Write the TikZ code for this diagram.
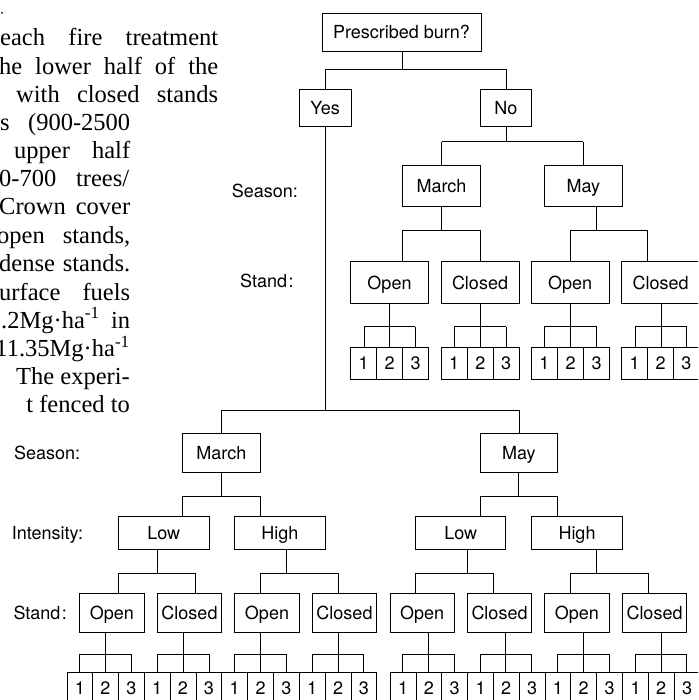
\documentclass[tikz,border=0pt]{standalone}
\usepackage{fontspec}
\setmainfont{Liberation Serif}
\newfontfamily\hvfont{TeX Gyre Heros}
\tikzset{
  bx/.style={draw, line width=0.9pt, inner sep=0pt, font=\hvfont\fontsize{18}{18}\selectfont, text height=13pt, text depth=0pt},
  ln/.style={line width=0.9pt},
  lab/.style={anchor=west, inner sep=0pt, font=\hvfont\fontsize{18}{18}\selectfont, text height=13pt, text depth=0pt},
  para/.style={anchor=base west, inner sep=0pt, font=\fontsize{24.5}{24.5}\selectfont},
  parae/.style={anchor=base east, inner sep=0pt, font=\fontsize{24.5}{24.5}\selectfont}
}
\newcommand\mybox[6]{\node[bx, minimum width={#4pt-#2pt}, minimum height={#5pt-#3pt}] (#1) at ({(#2+#4)/2},{(#3+#5)/2}) {#6};}
\newcommand\leafrow[7]{%
  \mybox{#11}{#2}{#6}{#3}{#7}{1}
  \mybox{#12}{#3}{#6}{#4}{#7}{2}
  \mybox{#13}{#4}{#6}{#5}{#7}{3}}
\newcommand\forktwo[7]{%
  \coordinate (#1-s) at (#2,#3);
  \coordinate (#1-a) at (#5,#3);
  \coordinate (#1-b) at (#7,#3);
  \draw[ln] (#1.south -| #1-s) -- (#1-s);
  \draw[ln] (#1-a) -- (#1-b);
  \draw[ln] (#1-a) -- (#4.north -| #1-a);
  \draw[ln] (#1-b) -- (#6.north -| #1-b);}
\newcommand\forkthree[7]{%
  \coordinate (#1-s) at (#2,#3);
  \coordinate (#1-a) at (#5,#3);
  \coordinate (#1-m) at (#6,#3);
  \coordinate (#1-b) at (#7,#3);
  \draw[ln] (#1.south -| #1-s) -- (#1-s);
  \draw[ln] (#1-a) -- (#1-b);
  \draw[ln] (#1-a) -- (#41.north -| #1-a);
  \draw[ln] (#1-m) -- (#42.north -| #1-m);
  \draw[ln] (#1-b) -- (#43.north -| #1-b);}
\begin{document}
\begin{tikzpicture}[x=1pt,y=-1pt]
\useasboundingbox (0,0) rectangle (698,700);
\clip (0,0) rectangle (698,700);
\fill[white] (0,0) rectangle (698,700);

% paragraph fragment
\fill (2,13) circle (1);
\node[para] (p1) at (0,46) {\makebox[218pt][s]{each fire treatment}};
\node[para] (p2) at (-1,74.5) {\makebox[219pt][s]{he lower half of the}};
\node[para] (p3) at (16,102.5) {\makebox[202pt][s]{with closed stands}};
\node[para] (p4) at (0,131) {\makebox[130pt][s]{s (900-2500}};
\node[para] (p5) at (14,159) {\makebox[116pt][s]{upper half}};
\node[para] (p6) at (-1,187) {\makebox[130pt][s]{0-700 trees/}};
\node[para] (p7) at (-1,215) {\makebox[131pt][s]{Crown cover}};
\node[para] (p8) at (-3,243.5) {\makebox[133pt][s]{open stands,}};
\node[para] (p9) at (-1,271.5) {\makebox[131pt][s]{dense stands.}};
\node[para] (p10) at (-1,300) {\makebox[131pt][s]{urface fuels}};
\node[para] (p11) at (1,328) {\makebox[129pt][s]{.2Mg·ha\textsuperscript{-1} in}};
\node[parae] (p12) at (130,356.5) {11.35Mg·ha\textsuperscript{-1}};
\node[parae] (p13) at (130,384.5) {The experi-};
\node[parae] (p14) at (130,412.5) {t fenced to};

% labels
\node[lab] (l1) at (231.7,191) {Season:};
\node[lab] (l2) at (240,281) {Stand\kern1.5pt:};
\node[lab] (l3) at (14,453.3) {Season:};
\node[lab] (l4) at (11.7,532.5) {Intensity:};
\node[lab] (l5) at (13.3,613) {Stand\kern1.5pt:};

% top tree
\mybox{pb}{322}{13}{481}{51}{Prescribed burn?}
\mybox{yes}{299.3}{89.3}{351}{126}{Yes}
\mybox{no}{480}{89.3}{531.7}{126}{No}
\mybox{marchA}{402.7}{165}{480.3}{206.7}{March}
\mybox{mayA}{544.3}{165}{622.3}{206.7}{May}
\mybox{oA1}{350.7}{261.7}{428.3}{303.3}{Open}
\mybox{cA1}{441}{261.7}{519}{303.3}{Closed}
\mybox{oA2}{531}{261.7}{609.3}{303.3}{Open}
\mybox{cA2}{621.7}{261.7}{699.7}{303.3}{Closed}
\leafrow{la}{350.7}{376.7}{402.7}{428.3}{347.3}{379.3}
\leafrow{lb}{441}{467.3}{493.3}{519}{347.3}{379.3}
\leafrow{lc}{531}{557.7}{583.7}{609.3}{347.3}{379.3}
\leafrow{ld}{621.7}{647.7}{673.3}{699.3}{347.3}{379.3}

\forktwo{pb}{402.7}{69}{yes}{325}{no}{506}
\forktwo{no}{506}{141.7}{marchA}{441.7}{mayA}{583.3}
\forktwo{marchA}{441.7}{230}{oA1}{402.3}{cA1}{480}
\forktwo{mayA}{596}{230}{oA2}{570.7}{cA2}{647.3}
\forkthree{oA1}{389.3}{326.7}{la}{364}{389.3}{415.3}
\forkthree{cA1}{480}{326.7}{lb}{454.3}{480}{506}
\forkthree{oA2}{570.7}{326.7}{lc}{544.3}{570.7}{596.7}
\forkthree{cA2}{661}{326.7}{ld}{635}{661}{686.7}

% bottom tree
\mybox{marchB}{182.7}{433.3}{260}{472.3}{March}
\mybox{mayB}{480}{433.3}{557.7}{472.3}{May}
\mybox{lowB1}{118.3}{516.7}{209.3}{549.3}{Low}
\mybox{highB1}{234.7}{516.7}{325}{549.3}{High}
\mybox{lowB2}{415.7}{516.7}{505.7}{549.3}{Low}
\mybox{highB2}{531.7}{516.7}{622.3}{549.3}{High}
\mybox{o1}{79.3}{593.3}{144.3}{632.3}{Open}
\mybox{c1}{157.3}{593.3}{221.7}{632.3}{Closed}
\mybox{o2}{234.7}{593.3}{299.3}{632.3}{Open}
\mybox{c2}{312.3}{593.3}{376.7}{632.3}{Closed}
\mybox{o3}{390}{593.3}{454.3}{632.3}{Open}
\mybox{c3}{467.3}{593.3}{531.7}{632.3}{Closed}
\mybox{o4}{544.3}{593.3}{609.3}{632.3}{Open}
\mybox{c4}{622.3}{593.3}{686.7}{632.3}{Closed}
\leafrow{le}{67.7}{92.3}{118.3}{144.3}{672}{704}
\leafrow{lf}{144.3}{170}{196}{221.7}{672}{704}
\leafrow{lg}{221.7}{247.7}{273.3}{299.3}{672}{704}
\leafrow{lh}{299.3}{325}{351}{376.7}{672}{704}
\leafrow{li}{390}{416}{441.7}{467.7}{672}{704}
\leafrow{lj}{467.7}{493.3}{519}{545}{672}{704}
\leafrow{lk}{545}{570.7}{596.7}{622.7}{672}{704}
\leafrow{ll}{622.7}{648.3}{674}{700}{672}{704}

\forktwo{yes}{325}{410}{marchB}{221.7}{mayB}{519}
\forktwo{marchB}{221.7}{496}{lowB1}{182.7}{highB1}{260.7}
\forktwo{mayB}{518.3}{496}{lowB2}{480}{highB2}{557.7}
\forktwo{lowB1}{157.3}{573.3}{o1}{118.3}{c1}{195.7}
\forktwo{highB1}{286}{573.3}{o2}{260.7}{c2}{338.3}
\forktwo{lowB2}{467.3}{573.3}{o3}{415.7}{c3}{493.3}
\forktwo{highB2}{596.7}{573.3}{o4}{570.7}{c4}{648.3}
\forkthree{o1}{105.7}{654}{le}{79.3}{105.7}{131.7}
\forkthree{c1}{183.3}{654}{lf}{157.3}{183.3}{209.3}
\forkthree{o2}{260.7}{654}{lg}{234.7}{260.7}{286}
\forkthree{c2}{338.3}{654}{lh}{312.3}{338.3}{363.7}
\forkthree{o3}{428.3}{654}{li}{402.7}{428.3}{454.3}
\forkthree{c3}{505.7}{654}{lj}{480}{505.7}{531.7}
\forkthree{o4}{583.3}{654}{lk}{557.7}{583.3}{609.3}
\forkthree{c4}{661}{654}{ll}{635}{661}{686.7}
\end{tikzpicture}
\end{document}
